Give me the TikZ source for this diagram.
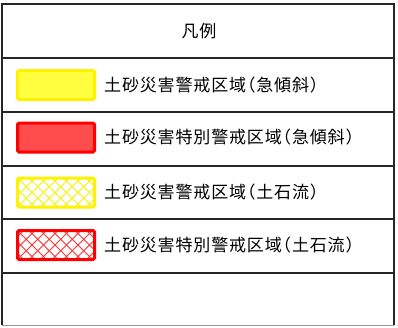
\documentclass[tikz,border=0pt]{standalone}
\usepackage{fontspec}
\usetikzlibrary{positioning}
\newfontfamily\jpfont[LetterSpace=5,RawFeature={+halt}]{Noto Sans CJK JP}
\definecolor{lightyel}{HTML}{FFFF40}
\definecolor{lightred}{HTML}{FF4D4D}
\definecolor{hatchyel}{HTML}{F4F400}
\definecolor{hatchred}{HTML}{FF3030}

\tikzset{
  swatch/.style={draw, line width=3pt, rounded corners=1.5pt,
    minimum width=77pt, minimum height=29pt, inner sep=0pt},
  hatch/.style={path picture={
    \foreach \k in {-4,...,9}{
      \draw[#1, line width=0.8pt] ([xshift=\k*11.5pt]path picture bounding box.south west) -- ++(40pt,40pt);
      \draw[#1, line width=0.8pt] ([xshift=\k*11.5pt]path picture bounding box.north west) -- ++(40pt,-40pt);
    }}},
  legendtext/.style={font=\jpfont\fontsize{17}{20}\selectfont, inner sep=0pt},
  rule/.style={line width=2pt, draw=black!85},
}

\begin{document}
\begin{tikzpicture}[x=1pt,y=-1pt]
  \useasboundingbox (0,0) rectangle (398,327);
  % frame and rows
  \draw[rule] (1.5,325) -- (1.5,3.5) -- (394,3.5) -- (394,325);
  \draw[line width=1.5pt, draw=black!40] (1.5,325.5) -- (394,325.5);
  \foreach \y in {58,112,166,219,273}
    \draw[rule] (1.5,\y) -- (394,\y);
  % heading
  \node[legendtext] (title) at (199,31) {凡例};
  % swatches
  \node[swatch, draw=yellow, fill=lightyel] (sw1) at (56,85) {};
  \node[swatch, draw=red, fill=lightred] (sw2) at (56,137.5) {};
  \node[swatch, draw=yellow, fill=white, hatch=hatchyel] (sw3) at (56,192.5) {};
  \node[swatch, draw=red, fill=white, hatch=hatchred] (sw4) at (56,245) {};
  % labels
  \node[legendtext, right=8pt of sw1] (lab1) {土砂災害警戒区域（急傾斜）};
  \node[legendtext, right=8pt of sw2] (lab2) {土砂災害特別警戒区域（急傾斜）};
  \node[legendtext, right=8pt of sw3] (lab3) {土砂災害警戒区域（土石流）};
  \node[legendtext, right=8pt of sw4] (lab4) {土砂災害特別警戒区域（土石流）};
\end{tikzpicture}
\end{document}
